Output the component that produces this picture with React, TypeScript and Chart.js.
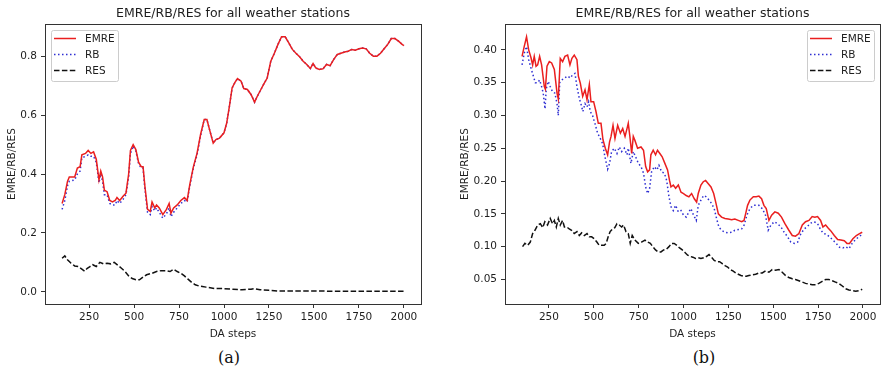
import React, { useEffect, useRef } from "react";
import { Chart, registerables } from "chart.js";

Chart.register(...registerables);

const TITLE = "EMRE/RB/RES for all weather stations";
const X_LABEL = "DA steps";
const Y_LABEL = "EMRE/RB/RES";
const SERIES = ["EMRE", "RB", "RES"];
const CAPTIONS = ["(a)", "(b)"];
const X_TICKS = [250, 500, 750, 1000, 1250, 1500, 1750, 2000];
const Y_TICKS_A = [0, 0.2, 0.4, 0.6, 0.8];
const Y_TICKS_B = [0.05, 0.1, 0.15, 0.2, 0.25, 0.3, 0.35, 0.4];

// ---- Panel (a) ----
const STEPS_A = [100, 115, 130, 140, 170, 185, 200, 210, 230, 245, 260, 275, 290, 305, 315, 325, 335, 350, 365, 380, 395, 405, 420, 440, 455, 470, 480, 495, 510, 525, 540, 550, 560, 575, 590, 600, 615, 625, 640, 660, 680, 695, 705, 720, 740, 760, 780, 795, 810, 830, 850, 870, 890, 905, 920, 940, 955, 975, 1000, 1015, 1030, 1045, 1060, 1075, 1095, 1110, 1130, 1150, 1170, 1185, 1205, 1220, 1240, 1260, 1280, 1300, 1320, 1340, 1360, 1380, 1400, 1420, 1440, 1460, 1480, 1495, 1510, 1530, 1550, 1570, 1590, 1610, 1630, 1650, 1670, 1690, 1710, 1730, 1750, 1770, 1790, 1810, 1830, 1850, 1870, 1890, 1910, 1930, 1950, 1970, 1990, 2000];
const EMRE_A = [0.30, 0.33, 0.375, 0.39, 0.39, 0.42, 0.425, 0.465, 0.47, 0.48, 0.47, 0.475, 0.45, 0.38, 0.41, 0.39, 0.345, 0.34, 0.31, 0.305, 0.31, 0.32, 0.31, 0.325, 0.335, 0.40, 0.48, 0.50, 0.483, 0.44, 0.425, 0.425, 0.36, 0.28, 0.273, 0.305, 0.285, 0.295, 0.285, 0.262, 0.28, 0.30, 0.267, 0.285, 0.295, 0.31, 0.32, 0.31, 0.365, 0.425, 0.47, 0.535, 0.585, 0.585, 0.55, 0.505, 0.517, 0.522, 0.54, 0.573, 0.63, 0.692, 0.71, 0.724, 0.715, 0.69, 0.687, 0.67, 0.644, 0.664, 0.687, 0.704, 0.726, 0.783, 0.81, 0.84, 0.866, 0.866, 0.845, 0.823, 0.81, 0.798, 0.783, 0.772, 0.758, 0.775, 0.76, 0.755, 0.757, 0.772, 0.768, 0.789, 0.806, 0.81, 0.814, 0.817, 0.823, 0.82, 0.825, 0.828, 0.825, 0.81, 0.80, 0.80, 0.81, 0.825, 0.84, 0.86, 0.86, 0.851, 0.84, 0.836];
const RB_A = [0.28, 0.31, 0.36, 0.375, 0.38, 0.40, 0.41, 0.455, 0.46, 0.465, 0.46, 0.46, 0.44, 0.37, 0.40, 0.375, 0.33, 0.33, 0.30, 0.295, 0.295, 0.31, 0.30, 0.315, 0.33, 0.39, 0.47, 0.495, 0.478, 0.435, 0.42, 0.42, 0.35, 0.27, 0.262, 0.29, 0.275, 0.285, 0.27, 0.25, 0.265, 0.285, 0.255, 0.27, 0.285, 0.30, 0.31, 0.305, 0.36, 0.42, 0.465, 0.53, 0.585, 0.585, 0.55, 0.505, 0.517, 0.522, 0.54, 0.573, 0.63, 0.692, 0.71, 0.724, 0.715, 0.69, 0.687, 0.67, 0.644, 0.664, 0.687, 0.704, 0.726, 0.783, 0.81, 0.84, 0.866, 0.866, 0.845, 0.823, 0.81, 0.798, 0.783, 0.772, 0.758, 0.775, 0.76, 0.755, 0.757, 0.772, 0.768, 0.789, 0.806, 0.81, 0.814, 0.817, 0.823, 0.82, 0.825, 0.828, 0.825, 0.81, 0.80, 0.80, 0.81, 0.825, 0.84, 0.86, 0.86, 0.851, 0.84, 0.836];
const RES_STEPS_A = [100, 115, 130, 150, 170, 190, 210, 225, 240, 255, 270, 290, 310, 330, 350, 370, 390, 410, 430, 450, 470, 490, 510, 530, 550, 570, 600, 625, 650, 675, 700, 720, 740, 760, 780, 800, 820, 840, 860, 880, 900, 950, 1000, 1050, 1100, 1150, 1170, 1200, 1250, 1300, 1400, 1500, 1600, 1700, 1800, 1900, 2000];
const RES_A = [0.114, 0.122, 0.109, 0.097, 0.088, 0.086, 0.077, 0.07, 0.08, 0.086, 0.092, 0.086, 0.10, 0.095, 0.097, 0.095, 0.10, 0.09, 0.08, 0.069, 0.054, 0.045, 0.041, 0.041, 0.05, 0.058, 0.063, 0.069, 0.072, 0.072, 0.069, 0.077, 0.069, 0.063, 0.054, 0.043, 0.032, 0.024, 0.02, 0.018, 0.016, 0.011, 0.011, 0.009, 0.007, 0.009, 0.011, 0.007, 0.005, 0.003, 0.003, 0.003, 0.002, 0.002, 0.002, 0.002, 0.002];

// ---- Panel (b) ----
const EMRE_STEPS_B = [100, 112, 125, 137, 150, 159, 168, 178, 187, 198, 209, 224, 230, 239, 252, 265, 280, 295, 302, 313, 326, 339, 354, 367, 378, 391, 406, 414, 425, 438, 451, 462, 475, 484, 499, 512, 525, 540, 551, 564, 577, 588, 596, 607, 618, 633, 648, 661, 674, 685, 692, 701, 711, 720, 729, 744, 763, 777, 789, 800, 811, 818, 831, 844, 855, 868, 881, 896, 911, 922, 930, 943, 956, 971, 986, 1000, 1015, 1030, 1045, 1060, 1073, 1082, 1097, 1110, 1123, 1138, 1153, 1168, 1181, 1194, 1212, 1231, 1249, 1268, 1286, 1305, 1324, 1337, 1346, 1357, 1370, 1389, 1405, 1420, 1435, 1448, 1461, 1476, 1491, 1509, 1528, 1546, 1565, 1587, 1606, 1624, 1643, 1662, 1680, 1699, 1717, 1732, 1747, 1764, 1777, 1792, 1807, 1821, 1840, 1859, 1877, 1896, 1911, 1925, 1944, 1963, 1981, 1996];
const EMRE_B = [0.39, 0.405, 0.42, 0.40, 0.388, 0.377, 0.39, 0.375, 0.377, 0.39, 0.377, 0.344, 0.34, 0.375, 0.382, 0.38, 0.37, 0.334, 0.325, 0.387, 0.382, 0.39, 0.392, 0.377, 0.387, 0.392, 0.385, 0.36, 0.349, 0.329, 0.339, 0.324, 0.347, 0.321, 0.321, 0.306, 0.288, 0.288, 0.263, 0.25, 0.24, 0.26, 0.268, 0.285, 0.265, 0.285, 0.273, 0.28, 0.268, 0.28, 0.288, 0.268, 0.242, 0.268, 0.262, 0.25, 0.252, 0.247, 0.222, 0.214, 0.217, 0.24, 0.247, 0.24, 0.247, 0.242, 0.237, 0.227, 0.217, 0.201, 0.191, 0.194, 0.189, 0.194, 0.183, 0.181, 0.178, 0.176, 0.181, 0.173, 0.168, 0.181, 0.194, 0.199, 0.201, 0.196, 0.191, 0.181, 0.166, 0.15, 0.145, 0.143, 0.142, 0.141, 0.142, 0.14, 0.138, 0.14, 0.15, 0.163, 0.171, 0.176, 0.176, 0.177, 0.173, 0.163, 0.158, 0.14, 0.148, 0.153, 0.151, 0.145, 0.135, 0.125, 0.117, 0.116, 0.12, 0.133, 0.138, 0.14, 0.146, 0.145, 0.146, 0.14, 0.13, 0.133, 0.128, 0.124, 0.117, 0.111, 0.11, 0.109, 0.105, 0.105, 0.112, 0.117, 0.12, 0.122];
const RB_STEPS_B = [100, 112, 125, 137, 150, 163, 174, 187, 198, 209, 218, 228, 235, 246, 257, 270, 283, 295, 302, 310, 321, 336, 354, 369, 382, 395, 406, 419, 428, 439, 451, 462, 471, 480, 493, 506, 521, 536, 549, 562, 577, 588, 599, 614, 629, 642, 655, 670, 685, 692, 707, 720, 733, 748, 763, 777, 789, 800, 811, 822, 837, 852, 863, 878, 893, 906, 919, 930, 943, 956, 971, 986, 1000, 1015, 1030, 1041, 1056, 1071, 1082, 1097, 1112, 1127, 1142, 1156, 1171, 1184, 1197, 1212, 1231, 1249, 1268, 1286, 1305, 1324, 1338, 1353, 1370, 1389, 1405, 1420, 1439, 1457, 1472, 1487, 1506, 1524, 1543, 1561, 1580, 1598, 1617, 1636, 1654, 1673, 1691, 1710, 1729, 1747, 1766, 1781, 1795, 1814, 1833, 1851, 1870, 1888, 1903, 1922, 1940, 1959, 1977, 1996];
const RB_B = [0.377, 0.395, 0.405, 0.385, 0.372, 0.36, 0.35, 0.35, 0.354, 0.344, 0.334, 0.31, 0.341, 0.352, 0.344, 0.336, 0.334, 0.318, 0.30, 0.35, 0.354, 0.357, 0.36, 0.357, 0.362, 0.364, 0.344, 0.326, 0.318, 0.306, 0.318, 0.313, 0.321, 0.306, 0.30, 0.288, 0.273, 0.265, 0.257, 0.237, 0.218, 0.227, 0.245, 0.25, 0.242, 0.252, 0.245, 0.25, 0.24, 0.25, 0.227, 0.245, 0.237, 0.227, 0.222, 0.212, 0.191, 0.181, 0.189, 0.214, 0.222, 0.217, 0.224, 0.214, 0.212, 0.201, 0.176, 0.161, 0.155, 0.163, 0.153, 0.155, 0.148, 0.145, 0.153, 0.158, 0.148, 0.14, 0.163, 0.171, 0.178, 0.176, 0.171, 0.166, 0.158, 0.143, 0.13, 0.125, 0.122, 0.121, 0.122, 0.125, 0.126, 0.127, 0.133, 0.148, 0.158, 0.163, 0.163, 0.163, 0.158, 0.148, 0.125, 0.133, 0.138, 0.135, 0.13, 0.122, 0.115, 0.107, 0.105, 0.107, 0.12, 0.127, 0.131, 0.136, 0.138, 0.135, 0.125, 0.12, 0.119, 0.115, 0.11, 0.105, 0.099, 0.098, 0.10, 0.097, 0.105, 0.111, 0.115, 0.119];
const RES_STEPS_B = [103, 116, 131, 146, 159, 172, 187, 202, 215, 227, 242, 257, 270, 280, 291, 302, 313, 326, 336, 350, 363, 376, 391, 406, 419, 432, 447, 462, 475, 488, 503, 517, 530, 543, 558, 569, 580, 591, 604, 617, 629, 642, 655, 666, 679, 692, 703, 714, 729, 748, 766, 785, 800, 815, 829, 844, 859, 874, 889, 904, 919, 933, 948, 963, 978, 993, 1008, 1023, 1038, 1052, 1067, 1082, 1097, 1112, 1127, 1142, 1156, 1171, 1186, 1201, 1216, 1231, 1246, 1260, 1275, 1290, 1305, 1320, 1335, 1350, 1364, 1383, 1402, 1420, 1439, 1457, 1476, 1494, 1513, 1532, 1550, 1569, 1587, 1606, 1624, 1643, 1662, 1680, 1699, 1717, 1736, 1754, 1773, 1792, 1810, 1829, 1847, 1866, 1885, 1903, 1922, 1940, 1959, 1977, 1996];
const RES_B = [0.10, 0.105, 0.102, 0.107, 0.12, 0.125, 0.133, 0.135, 0.129, 0.138, 0.133, 0.143, 0.135, 0.14, 0.13, 0.143, 0.133, 0.14, 0.13, 0.13, 0.127, 0.125, 0.12, 0.123, 0.117, 0.121, 0.117, 0.12, 0.115, 0.115, 0.112, 0.107, 0.102, 0.102, 0.102, 0.105, 0.115, 0.123, 0.127, 0.129, 0.135, 0.133, 0.13, 0.133, 0.123, 0.12, 0.105, 0.117, 0.11, 0.105, 0.107, 0.11, 0.107, 0.105, 0.10, 0.095, 0.092, 0.092, 0.095, 0.096, 0.10, 0.105, 0.105, 0.102, 0.098, 0.095, 0.091, 0.087, 0.085, 0.084, 0.082, 0.083, 0.082, 0.083, 0.085, 0.088, 0.084, 0.079, 0.077, 0.077, 0.074, 0.071, 0.069, 0.065, 0.063, 0.06, 0.058, 0.056, 0.055, 0.055, 0.056, 0.057, 0.058, 0.06, 0.06, 0.063, 0.061, 0.065, 0.064, 0.065, 0.061, 0.056, 0.053, 0.051, 0.05, 0.048, 0.046, 0.044, 0.043, 0.042, 0.042, 0.044, 0.047, 0.05, 0.05, 0.048, 0.046, 0.044, 0.04, 0.036, 0.034, 0.033, 0.032, 0.033, 0.035];

const FONT = "'DejaVu Sans', sans-serif";
const TEXT = "#1e1e1e";
const AXIS = "#333";
const RED = "#ea1f1f";
const BLUE = "#2e2ed2";
const BLACK = "#111";

type PanelProps = {
  series: { xs: number[]; ys: number[] }[];
  yTicks: number[];
  decimals: number;
  yMin: number;
  yMax: number;
  legendSide: "left" | "right";
  width: number;
  plotLeft: number;
  padRight: number;
  yTitlePad: number;
};

const pts = (xs: number[], ys: number[]) => xs.map((x, i) => ({ x, y: ys[i] }));

function Panel(p: PanelProps) {
  const ref = useRef<HTMLCanvasElement>(null);
  useEffect(() => {
    const styles = [
      { color: RED, dash: [] as number[] },
      { color: BLUE, dash: [1.5, 2.5] },
      { color: BLACK, dash: [5.5, 2.4] },
    ];
    const framePlugin = {
      id: "frameLegend",
      afterDraw(chart: any) {
        const { ctx, chartArea } = chart;
        const { left, top, right, bottom } = chartArea;
        ctx.save();
        ctx.strokeStyle = AXIS;
        ctx.lineWidth = 1;
        ctx.setLineDash([]);
        ctx.strokeRect(Math.round(left) + 0.5, Math.round(top) + 0.5, Math.round(right - left), Math.round(bottom - top));
        const bw = 67, bh = 51;
        const bx = p.legendSide === "left" ? left + 6 : right - 6 - bw;
        const by = top + 6;
        ctx.beginPath();
        if ((ctx as any).roundRect) (ctx as any).roundRect(bx + 0.5, by + 0.5, bw, bh, 2);
        else ctx.rect(bx + 0.5, by + 0.5, bw, bh);
        ctx.fillStyle = "rgba(255,255,255,0.8)";
        ctx.fill();
        ctx.strokeStyle = "#cccccc";
        ctx.stroke();
        chart.data.datasets.forEach((ds: any, i: number) => {
          const y = by + 8.5 + i * 16;
          ctx.beginPath();
          ctx.setLineDash(ds.borderDash || []);
          ctx.strokeStyle = ds.borderColor;
          ctx.lineWidth = 1.5;
          ctx.moveTo(bx + 3, y);
          ctx.lineTo(bx + 25, y);
          ctx.stroke();
          ctx.setLineDash([]);
          ctx.fillStyle = TEXT;
          ctx.font = `10.5px ${FONT}`;
          ctx.textBaseline = "middle";
          ctx.textAlign = "left";
          ctx.fillText(ds.label, bx + 34, y + 0.5);
        });
        ctx.restore();
      },
    };
    const tickFont = { family: FONT, size: 10.5 };
    const chart = new Chart(ref.current!, {
      type: "line",
      data: {
        datasets: p.series.map((s, i) => ({
          label: SERIES[i],
          data: pts(s.xs, s.ys),
          borderColor: styles[i].color,
          backgroundColor: styles[i].color,
          borderDash: styles[i].dash,
          borderWidth: 1.5,
          pointRadius: 0,
          fill: false,
          tension: 0,
        })),
      },
      options: {
        animation: false,
        responsive: false,
        events: [],
        layout: { padding: { left: 0, right: p.padRight, top: 0, bottom: 0 } },
        plugins: {
          legend: { display: false },
          tooltip: { enabled: false },
          title: {
            display: true,
            text: TITLE,
            fullSize: false,
            font: { family: FONT, size: 12.5, weight: "normal" },
            color: TEXT,
            padding: { top: 6.5, bottom: 2.5 },
          },
        },
        scales: {
          x: {
            type: "linear",
            min: 5,
            max: 2095,
            afterBuildTicks: (s: any) => {
              s.ticks = X_TICKS.map((v) => ({ value: v }));
            },
            afterFit: (s: any) => {
              s.height = 41;
            },
            ticks: {
              font: tickFont,
              color: TEXT,
              padding: 3,
              maxRotation: 0,
              autoSkip: false,
              callback: (v: any) => String(v),
            },
            grid: { drawOnChartArea: false, drawTicks: true, tickLength: 4, color: AXIS },
            border: { display: false },
            title: {
              display: true,
              text: X_LABEL,
              font: tickFont,
              color: TEXT,
              padding: { top: 0, bottom: 4.5 },
            },
          },
          y: {
            type: "linear",
            min: p.yMin,
            max: p.yMax,
            afterBuildTicks: (s: any) => {
              s.ticks = p.yTicks.map((v) => ({ value: v }));
            },
            afterFit: (s: any) => {
              s.width = p.plotLeft;
            },
            ticks: {
              font: tickFont,
              color: TEXT,
              padding: 4,
              autoSkip: false,
              callback: (v: any) => Number(v).toFixed(p.decimals),
            },
            grid: { drawOnChartArea: false, drawTicks: true, tickLength: 4, color: AXIS },
            border: { display: false },
            title: {
              display: true,
              text: Y_LABEL,
              font: tickFont,
              color: TEXT,
              padding: { top: p.yTitlePad, bottom: 0 },
            },
          },
        },
      },
      plugins: [framePlugin],
    } as any);
    return () => chart.destroy();
  }, []);
  return <canvas ref={ref} width={p.width} height={345} style={{ display: "block", width: p.width, height: 345 }} />;
}

export default function App() {
  return (
    <div style={{ position: "absolute", left: 0, top: 0, width: 885, height: 369, background: "#fff", overflow: "hidden" }}>
      <div style={{ position: "absolute", left: 0, top: 0 }}>
        <Panel
          series={[
            { xs: STEPS_A, ys: EMRE_A },
            { xs: STEPS_A, ys: RB_A },
            { xs: RES_STEPS_A, ys: RES_A },
          ]}
          yTicks={Y_TICKS_A}
          decimals={1}
          yMin={-0.0413}
          yMax={0.9093}
          legendSide="left"
          width={443}
          plotLeft={45}
          padRight={22}
          yTitlePad={5.5}
        />
      </div>
      <div style={{ position: "absolute", left: 443, top: 0 }}>
        <Panel
          series={[
            { xs: EMRE_STEPS_B, ys: EMRE_B },
            { xs: RB_STEPS_B, ys: RB_B },
            { xs: RES_STEPS_B, ys: RES_B },
          ]}
          yTicks={Y_TICKS_B}
          decimals={2}
          yMin={0.0126}
          yMax={0.4394}
          legendSide="right"
          width={442}
          plotLeft={62}
          padRight={5}
          yTitlePad={15.5}
        />
      </div>
      {CAPTIONS.map((c, i) => (
        <div
          key={c}
          style={{
            position: "absolute",
            left: (i === 0 ? 229 : 704) - 40,
            top: 349,
            width: 80,
            textAlign: "center",
            fontFamily: "'DejaVu Serif', serif",
            fontSize: 16,
            lineHeight: "18px",
            color: "#111",
          }}
        >
          {c}
        </div>
      ))}
    </div>
  );
}
